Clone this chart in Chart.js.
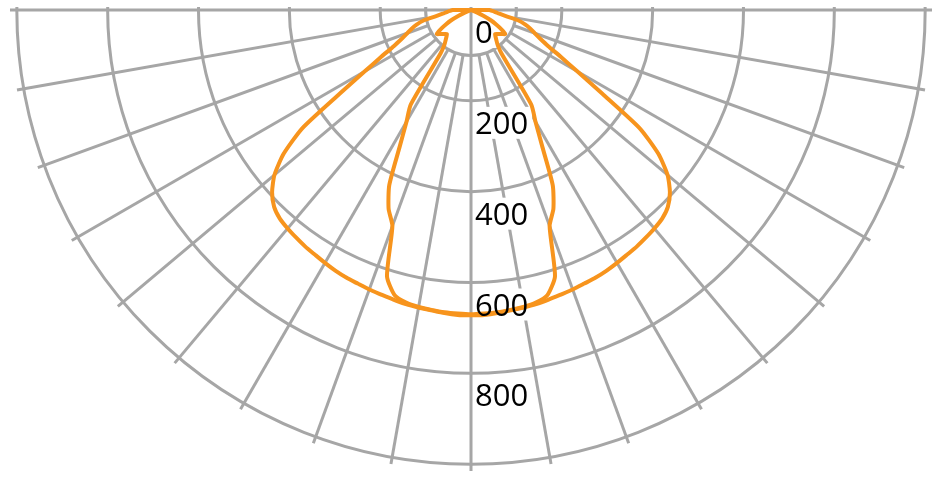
<!DOCTYPE html>
<html>
<head>
<meta charset="utf-8">
<script src="https://cdn.jsdelivr.net/npm/chart.js@4.4.1/dist/chart.umd.min.js"></script>
<style>
  html, body { margin: 0; padding: 0; background: #fff; overflow: hidden; }
  #wrap { position: absolute; left: 0; top: 7px; width: 946px; height: 477px; overflow: hidden; }
  #polar { position: absolute; left: 0; top: -458px; }
</style>
</head>
<body>
<div id="wrap"><canvas id="polar" width="946" height="922"></canvas></div>
<script>
// angulos cada 2.5 grados, 0 = hacia abajo
const step = 2.5;
const ringValues = [0, 100, 200, 400, 600, 800, 1000];
const tickLabels = [0, 200, 400, 600, 800];

// curva ancha, de 0 a 90 grados (simetrica)
const outerCurve = [672, 672, 670, 667, 665, 663, 660, 657, 655, 652, 650, 647, 643, 639, 636, 632,
  628, 623, 613, 594, 565, 520, 453, 343, 270, 222, 187, 165, 149, 137, 124, 107, 78, 63, 54, 47, 40];
// curva estrecha, de 0 a 70 grados (simetrica)
const innerCurve = [670, 669, 668, 666, 664, 660, 650, 615, 506, 474, 426, 341, 284, 247, 117, 96,
  87, 80, 75, 78, 82, 87, 92, 80, 64, 50, 30, 15, 0];

const gridGray = '#a6a6a6';
const orange = '#f7941d';
const labelFont = '31px "Open Sans", "Noto Sans", sans-serif';

const angleLabels = [];
for (let i = 0; i < 360 / step; i++) angleLabels.push(i * step + '°');

// completar el circulo con el otro lado
function mirror(half) {
  const n = angleLabels.length;
  const out = new Array(n).fill(0);
  half.forEach((v, i) => {
    out[i] = v;
    if (i > 0) out[n - i] = v;
  });
  return out;
}

const tickLabelPlugin = {
  id: 'tickLabels',
  beforeDatasetsDraw(chart) {
    const r = chart.scales.r;
    const ctx = chart.ctx;
    ctx.save();
    ctx.font = labelFont;
    tickLabels.forEach(v => {
      const y = r.yCenter + r.getDistanceFromCenterForValue(v) + 33;
      const w = ctx.measureText(String(v)).width;
      ctx.fillStyle = '#fff';
      ctx.fillRect(r.xCenter + 3, y - 27, w + 5, 32);
    });
    ctx.restore();
  },
  afterDatasetsDraw(chart) {
    const r = chart.scales.r;
    const ctx = chart.ctx;
    ctx.save();
    ctx.font = labelFont;
    ctx.fillStyle = '#000';
    ctx.textBaseline = 'alphabetic';
    tickLabels.forEach(v => {
      const y = r.yCenter + r.getDistanceFromCenterForValue(v) + 33;
      ctx.fillText(String(v), r.xCenter + 4, y);
    });
    ctx.restore();
  }
};

const ctx = document.getElementById('polar').getContext('2d');
const chart = new Chart(ctx, {
  type: 'radar',
  data: {
    labels: angleLabels,
    datasets: [
      { data: mirror(outerCurve), borderColor: orange, borderWidth: 4, fill: false, pointRadius: 0, tension: 0.2, borderJoinStyle: 'round' },
      { data: mirror(innerCurve), borderColor: orange, borderWidth: 4, fill: false, pointRadius: 0, tension: 0.2, borderJoinStyle: 'round' }
    ]
  },
  options: {
    responsive: false,
    animation: false,
    devicePixelRatio: 1,
    layout: { padding: { left: 10, right: 14, top: 0, bottom: 0 } },
    plugins: { legend: { display: false }, tooltip: { enabled: false } },
    scales: {
      r: {
        min: 0,
        max: 1015,
        startAngle: 180,
        afterBuildTicks: scale => { scale.ticks = ringValues.map(v => ({ value: v })); },
        ticks: { display: false },
        pointLabels: { display: false },
        grid: { circular: true, color: gridGray, lineWidth: 3 },
        angleLines: {
          color: c => c.index % 4 === 0 ? gridGray : 'rgba(0,0,0,0)',
          lineWidth: 3,
          // los radios empiezan en el anillo de 100, salvo los ejes
          borderDash: c => c.index % 36 === 0 ? [] : [2000, c.scale.getDistanceFromCenterForValue(100)],
          borderDashOffset: c => c.index % 36 === 0 ? 0 : 2000
        }
      }
    }
  },
  plugins: [tickLabelPlugin]
});
</script>
</body>
</html>
